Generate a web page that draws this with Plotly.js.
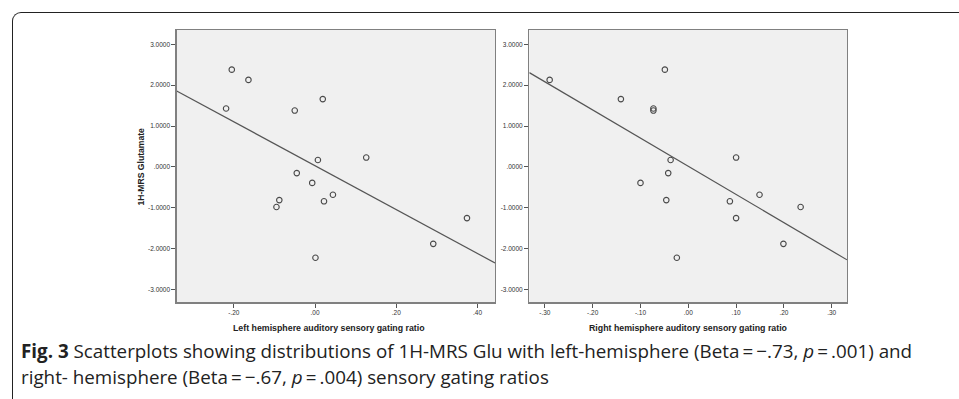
<!DOCTYPE html>
<html>
<head>
<meta charset="utf-8">
<script src="https://cdn.plot.ly/plotly-3.0.1.min.js"></script>
<style>
  html, body { margin: 0; padding: 0; background: #fff; }
  #wrap { position: relative; width: 959px; height: 399px; overflow: hidden; }
  #chart { position: absolute; left: 0; top: 0; width: 959px; height: 399px; }
  #frame { position: absolute; left: 12px; top: 12px; width: 960px; height: 400px;
           border-left: 1.6px solid #222; border-top: 1.6px solid #222;
           border-top-left-radius: 9px; pointer-events: none; }
</style>
</head>
<body>
<div id="wrap">
  <div id="chart"></div>
  <div id="frame"></div>
</div>
<script>
// ---- data ----
const gluY = [2.38, 2.13, 1.43, 1.38, 1.66, 0.17, 0.23, -0.15, -0.39, -0.81, -0.98, -0.84, -0.68, -2.22, -1.88, -1.25];
const leftX = [-0.205, -0.164, -0.219, -0.050, 0.019, 0.007, 0.126, -0.045, -0.007, -0.088, -0.095, 0.022, 0.044, 0.001, 0.291, 0.374];
const rightX = [-0.049, -0.290, -0.073, -0.073, -0.141, -0.037, 0.100, -0.042, -0.100, -0.046, 0.235, 0.087, 0.149, -0.024, 0.199, 0.100];
const leftFit = [-5.37, 0.031];   // slope, intercept
const rightFit = [-6.89, 0.016];  // slope, intercept
const yTickVals = [3, 2, 1, 0, -1, -2, -3];
const yTickText = ["3.0000", "2.0000", "1.0000", ".0000", "-1.0000", "-2.0000", "-3.0000"];
const leftTickVals = [-0.2, 0, 0.2, 0.4];
const leftTickText = ["-.20", ".00", ".20", ".40"];
const rightTickVals = [-0.3, -0.2, -0.1, 0, 0.1, 0.2, 0.3];
const rightTickText = ["-.30", "-.20", "-.10", ".00", ".10", ".20", ".30"];
const leftXTitle = "Left hemisphere auditory sensory gating ratio";
const rightXTitle = "Right hemisphere auditory sensory gating ratio";
const yTitle = "1H-MRS Glutamate";
const captionLine1 = "<b>Fig. 3</b> Scatterplots showing distributions of 1H-MRS Glu with left-hemisphere (Beta\u2009=\u2009\u2212.73, <i>p</i>\u2009=\u2009.001) and";
const captionLine2 = "right- hemisphere (Beta\u2009=\u2009\u2212.67, <i>p</i>\u2009=\u2009.004) sensory gating ratios";

// ---- layout geometry ----
const W = 959, H = 399;
const leftRange = [-0.3406, 0.443];
const rightRange = [-0.3326, 0.332];
const yRange = [-3.31, 3.35];
const px = v => v / W;
const py = v => 1 - v / H;

function fitLine(range, fit) {
  return { x: range, y: range.map(v => fit[0] * v + fit[1]) };
}
const lf = fitLine(leftRange, leftFit);
const rf = fitLine(rightRange, rightFit);

const markerStyle = { symbol: 'circle-open', size: 5.5, color: '#4a4a4a', line: { width: 1.1, color: '#4a4a4a' } };
const lineStyle = { color: '#555', width: 1.2 };

const traces = [
  { type: 'scatter', mode: 'lines', x: lf.x, y: lf.y, xaxis: 'x', yaxis: 'y', line: lineStyle, hoverinfo: 'skip' },
  { type: 'scatter', mode: 'markers', x: leftX, y: gluY, xaxis: 'x', yaxis: 'y', marker: markerStyle },
  { type: 'scatter', mode: 'lines', x: rf.x, y: rf.y, xaxis: 'x2', yaxis: 'y2', line: lineStyle, hoverinfo: 'skip' },
  { type: 'scatter', mode: 'markers', x: rightX, y: gluY, xaxis: 'x2', yaxis: 'y2', marker: markerStyle }
];

const tickFont = { family: 'Liberation Sans, Arial, sans-serif', size: 6.5, color: '#333' };
function xAxis(domain, range, vals, text, anchor) {
  return {
    domain: domain, range: range, anchor: anchor,
    tickvals: vals, ticktext: text, ticks: 'outside', ticklen: 4, tickwidth: 1, tickcolor: '#555',
    tickfont: tickFont, showgrid: false, zeroline: false,
    showline: true, linecolor: '#808080', linewidth: 1.3, mirror: true, fixedrange: true
  };
}
function yAxis(domain, anchor) {
  return {
    domain: domain, range: yRange, anchor: anchor,
    tickvals: yTickVals, ticktext: yTickText, ticks: 'outside', ticklen: 4, tickwidth: 1, tickcolor: '#555',
    tickfont: tickFont, showgrid: false, zeroline: false,
    showline: true, linecolor: '#808080', linewidth: 1.3, mirror: true, fixedrange: true
  };
}

const yDom = [py(302.3), py(30)];
const xTitleFont = { family: 'Liberation Sans, Arial, sans-serif', size: 8.8, color: '#222' };
const yTitleFont = { family: 'Liberation Sans, Arial, sans-serif', size: 8.6, color: '#222' };
const capFont = { family: 'Open Sans, sans-serif', size: 18.8, color: '#222' };

const layout = {
  width: W, height: H,
  margin: { l: 0, r: 0, t: 0, b: 0 },
  paper_bgcolor: '#fff',
  plot_bgcolor: '#f0f0f0',
  showlegend: false,
  xaxis: xAxis([px(176.7), px(495)], leftRange, leftTickVals, leftTickText, 'y'),
  yaxis: yAxis(yDom, 'x'),
  xaxis2: xAxis([px(529.3), px(847)], rightRange, rightTickVals, rightTickText, 'y2'),
  yaxis2: yAxis(yDom, 'x2'),
  annotations: [
    { text: '<b>' + leftXTitle + '</b>', xref: 'paper', yref: 'paper', x: px(329), y: py(327.5), xanchor: 'center', yanchor: 'middle', showarrow: false, font: xTitleFont },
    { text: '<b>' + rightXTitle + '</b>', xref: 'paper', yref: 'paper', x: px(688.2), y: py(327.5), xanchor: 'center', yanchor: 'middle', showarrow: false, font: xTitleFont },
    { text: '<b>' + yTitle + '</b>', xref: 'paper', yref: 'paper', x: px(140), y: py(166.5), xanchor: 'center', yanchor: 'middle', textangle: -90, showarrow: false, font: yTitleFont },
    { text: captionLine1, xref: 'paper', yref: 'paper', x: px(19), y: py(351), xanchor: 'left', yanchor: 'middle', showarrow: false, font: capFont },
    { text: captionLine2, xref: 'paper', yref: 'paper', x: px(19), y: py(377), xanchor: 'left', yanchor: 'middle', showarrow: false, font: capFont }
  ]
};

Plotly.newPlot('chart', traces, layout, { displayModeBar: false, staticPlot: true });
</script>
</body>
</html>
